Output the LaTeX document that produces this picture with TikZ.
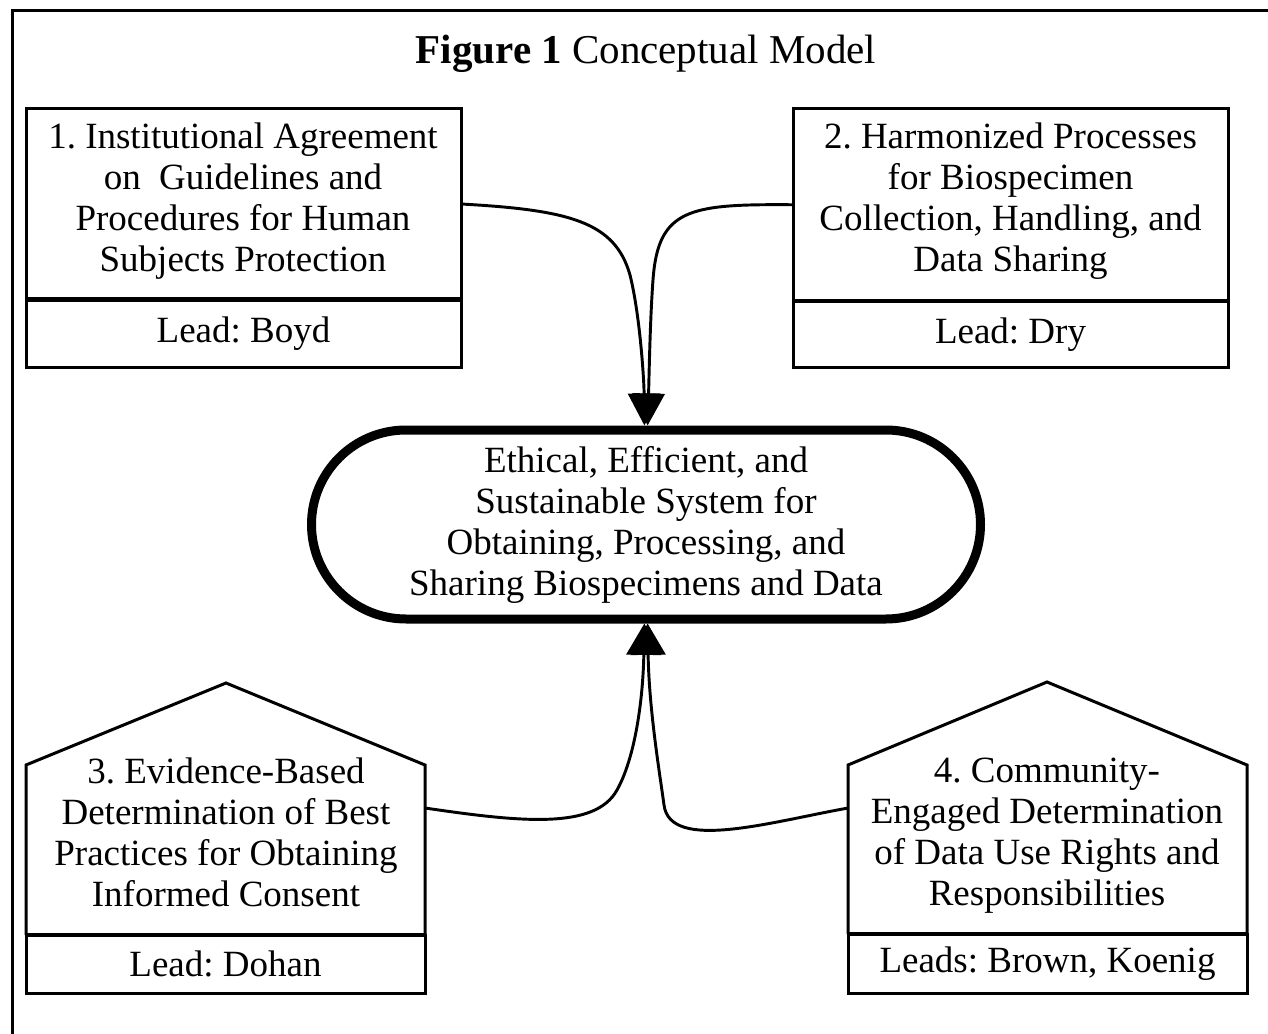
\documentclass[tikz,border=0pt]{standalone}
\usepackage{fontspec}
\setmainfont{Liberation Serif}
\usetikzlibrary{arrows.meta,shapes.misc}
\newcommand{\pxl}{0.75pt}
\frenchspacing
\begin{document}
\begin{tikzpicture}[x=0.75pt,y=-0.75pt,
  every node/.style={font=\fontsize{27.75pt}{30.75pt}\selectfont},
  frameline/.style={line width=2.25pt},
  boxpart/.style={draw,line width=2.25pt,outer sep=0pt,inner sep=0pt},
  plainpart/.style={outer sep=0pt,inner sep=0pt},
  outline/.style={line width=2.25pt,line join=miter},
  divider/.style={line width=3.5pt},
  txt/.style={align=center,inner sep=0pt},
  goal/.style={draw,rounded rectangle,line width=6.75pt,align=center,inner sep=0pt},
  conn/.style={line width=2.2pt},
  headdown/.style={-{Triangle[length=24pt,width=24pt]}},
  headup/.style={-{Triangle[length=23.5pt,width=26pt]}}
]
\useasboundingbox (0,0) rectangle (1268,1034);
% frame
\draw[frameline] (1268,11) -- (12,11) -- (12,1034);
% title
\node[anchor=base,font=\fontsize{30.75pt}{34pt}\selectfont] (title) at (646,64) {\textbf{Figure 1} Conceptual Model};

% box 1
\node[boxpart,minimum width={435*\pxl},minimum height={191*\pxl}] (b1top) at (243.5,204) {};
\node[boxpart,minimum width={435*\pxl},minimum height={68*\pxl}] (b1lead) at (243.5,333.5) {\raisebox{-2pt}{Lead: Boyd}};
\draw[divider] (b1top.south west) -- (b1top.south east);
\node[txt] (t1) at (243,201) {1. Institutional Agreement\\on~~Guidelines and\\Procedures for Human\\Subjects Protection};

% box 2
\node[boxpart,minimum width={435*\pxl},minimum height={192.5*\pxl}] (b2top) at (1010.5,204.75) {};
\node[boxpart,minimum width={435*\pxl},minimum height={66.5*\pxl}] (b2lead) at (1010.5,334.25) {\raisebox{-2pt}{Lead: Dry}};
\draw[divider] (b2top.south west) -- (b2top.south east);
\node[txt] (t2) at (1010.5,201) {2. Harmonized Processes\\for Biospecimen\\Collection, Handling, and\\Data Sharing};

% box 3
\node[plainpart,minimum width={399*\pxl},minimum height={170*\pxl}] (b3body) at (225.5,850) {};
\coordinate (peak3) at (226,683);
\draw[outline] (b3body.south west) -- (b3body.north west) -- (peak3) -- (b3body.north east) -- (b3body.south east);
\node[boxpart,minimum width={399*\pxl},minimum height={58*\pxl}] (b3lead) at (225.5,964) {Lead: Dohan};
\draw[divider] (b3body.south west) -- (b3body.south east);
\node[txt] (t3) at (226,832) {3. Evidence-Based\\Determination of Best\\Practices for Obtaining\\Informed Consent};

% box 4
\node[plainpart,minimum width={399*\pxl},minimum height={169*\pxl}] (b4body) at (1047.5,849.5) {};
\coordinate (peak4) at (1047,682);
\draw[outline] (b4body.south west) -- (b4body.north west) -- (peak4) -- (b4body.north east) -- (b4body.south east);
\node[boxpart,minimum width={399*\pxl},minimum height={59*\pxl}] (b4lead) at (1047.5,963.5) {Leads: Brown, Koenig};
\draw[divider] (b4body.south west) -- (b4body.south east);
\node[txt] (t4) at (1047,836) {4. Community-\\Engaged Determination\\of Data Use Rights and\\Responsibilities};

% goal
\node[goal,minimum width={669*\pxl},minimum height={189*\pxl}] (stad) at (646,524.5)
  {Ethical, Efficient, and\\Sustainable System for\\Obtaining, Processing, and\\Sharing Biospecimens and Data};

% connectors
\draw[conn,headdown] (b1top.east) .. controls (570,210) and (615,222) .. (630,275)
   .. controls (640,315) and (644,380) .. ([xshift=-1.2pt]stad.north);
\draw[conn,headdown] (b2top.west) .. controls (690,204) and (658,208) .. (653,280)
   .. controls (650,320) and (649,380) .. ([xshift=1.2pt]stad.north);
\draw[conn,headup] ([yshift=31.5pt]b3body.east) .. controls (520,822) and (595,830) .. (617,790)
   .. controls (635,758) and (643,700) .. ([xshift=-1.2pt]stad.south);
\draw[conn,headup] ([yshift=31.1pt]b4body.west) .. controls (770,822) and (670,852) .. (664,805)
   .. controls (660,775) and (649,710) .. ([xshift=1.2pt]stad.south);
\end{tikzpicture}
\end{document}
